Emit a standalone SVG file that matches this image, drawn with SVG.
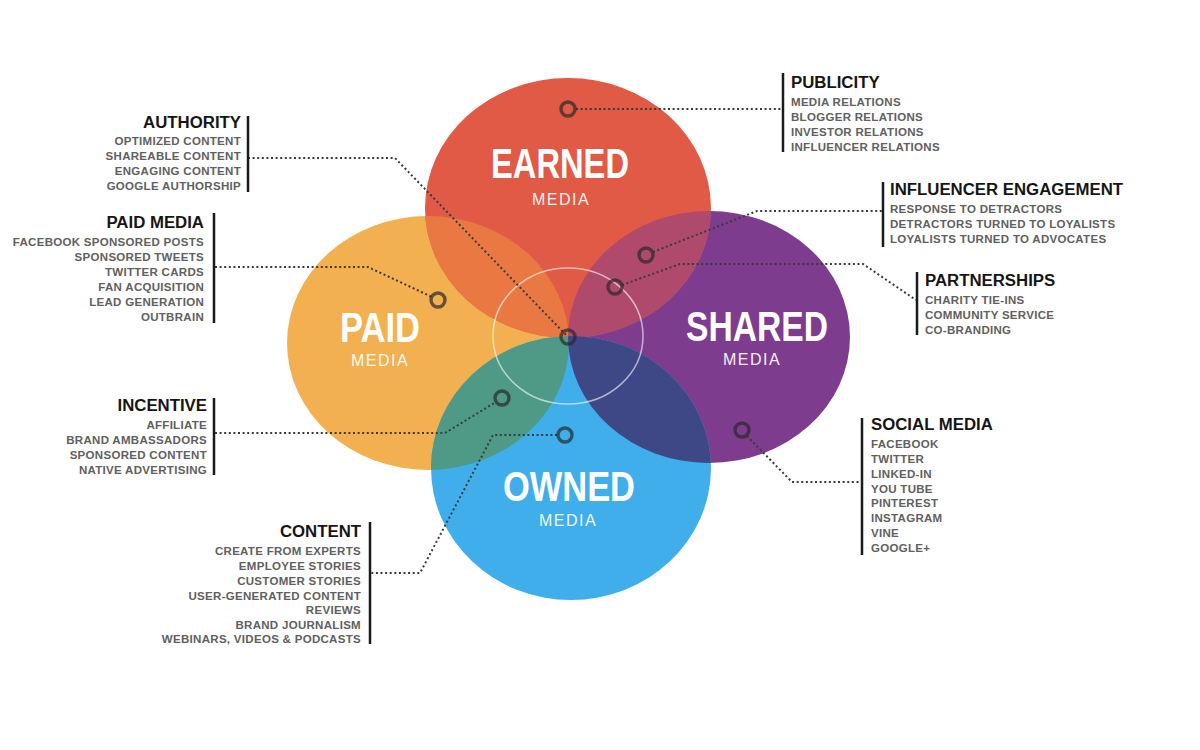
<svg xmlns="http://www.w3.org/2000/svg" width="1200" height="750" viewBox="0 0 1200 750">
<style>
.title{font-family:"Liberation Sans",Arial,sans-serif;font-weight:bold;fill:#fff;text-anchor:middle}
.sub{font-family:"Liberation Sans",Arial,sans-serif;fill:#fff;font-size:16px;letter-spacing:1.5px;text-anchor:middle;opacity:0.92}
.hd{font-family:"Liberation Sans",Arial,sans-serif;font-weight:bold;font-size:16.8px;fill:#151515}
.it{font-family:"Liberation Sans",Arial,sans-serif;font-weight:bold;font-size:11.5px;fill:#606060;letter-spacing:0.3px}
.r{text-anchor:end}
.br{stroke:#1a1a1a;stroke-width:2.5}
.dl{fill:none;stroke:#3a3a3a;stroke-width:2;stroke-dasharray:2 2.6}
.ring{fill:none;stroke:#2a2a2a;stroke-opacity:0.7;stroke-width:3.4}
</style>
<defs>
<clipPath id="cE"><ellipse cx="568" cy="208" rx="143" ry="130"/></clipPath>
<clipPath id="cO"><ellipse cx="571" cy="468" rx="140" ry="132"/></clipPath>
</defs>
<rect width="1200" height="750" fill="#fff"/>
<g id="circles">
<g id="paid"><ellipse cx="428" cy="343" rx="141" ry="127" fill="#F2B050"/></g>
<g id="shared"><ellipse cx="709" cy="337" rx="141" ry="126" fill="#7D3C8E"/></g>
<g id="earned"><ellipse cx="568" cy="208" rx="143" ry="130" fill="#E05A45"/></g>
<g id="owned"><ellipse cx="571" cy="468" rx="140" ry="132" fill="#3FAEEB"/></g>
<ellipse cx="428" cy="343" rx="141" ry="127" fill="#EA7843" clip-path="url(#cE)"/>
<ellipse cx="709" cy="337" rx="141" ry="126" fill="#B04A6C" clip-path="url(#cE)"/>
<ellipse cx="428" cy="343" rx="141" ry="127" fill="#4E9A86" clip-path="url(#cO)"/>
<ellipse cx="709" cy="337" rx="141" ry="126" fill="#3E4887" clip-path="url(#cO)"/>
<ellipse cx="568" cy="336" rx="75" ry="68" fill="none" stroke="#fff" stroke-opacity="0.6" stroke-width="1.5"/>
<text class="title" x="560" y="178" font-size="42" textLength="138" lengthAdjust="spacingAndGlyphs">EARNED</text>
<text class="sub" x="561" y="205">MEDIA</text>
<text class="title" x="380" y="342" font-size="42" textLength="80" lengthAdjust="spacingAndGlyphs">PAID</text>
<text class="sub" x="380" y="366">MEDIA</text>
<text class="title" x="757" y="341" font-size="42" textLength="142" lengthAdjust="spacingAndGlyphs">SHARED</text>
<text class="sub" x="752" y="365">MEDIA</text>
<text class="title" x="569" y="501" font-size="42" textLength="132" lengthAdjust="spacingAndGlyphs">OWNED</text>
<text class="sub" x="568" y="526">MEDIA</text>
</g>
<g id="connectors">
<polyline class="dl" points="576,109 783,109"/>
<polyline class="dl" points="248,158 395,158 566,335"/>
<polyline class="dl" points="215,267 368,267 432,297"/>
<polyline class="dl" points="653,252 757,211 883,211"/>
<polyline class="dl" points="622,285 680,264 863,264 916,300"/>
<polyline class="dl" points="215,433 445,433 496,402"/>
<polyline class="dl" points="557,435 493,435 420,573 370,573"/>
<polyline class="dl" points="747,436 792,482 862,482"/>
<circle class="ring" cx="568" cy="109" r="7"/>
<circle class="ring" cx="568" cy="337" r="7"/>
<circle class="ring" cx="438" cy="300" r="7"/>
<circle class="ring" cx="646" cy="255" r="7"/>
<circle class="ring" cx="615" cy="287" r="7"/>
<circle class="ring" cx="502" cy="398" r="7"/>
<circle class="ring" cx="565" cy="435" r="7"/>
<circle class="ring" cx="742" cy="430" r="7"/>
</g>
<g id="authority">
<line class="br" x1="248" y1="116" x2="248" y2="192"/>
<text class="hd r" x="241" y="128">AUTHORITY</text>
<text class="it r" x="241" y="145">OPTIMIZED CONTENT</text>
<text class="it r" x="241" y="160">SHAREABLE CONTENT</text>
<text class="it r" x="241" y="175">ENGAGING CONTENT</text>
<text class="it r" x="241" y="190">GOOGLE AUTHORSHIP</text>
</g>
<g id="paid-media">
<line class="br" x1="214" y1="213" x2="214" y2="323"/>
<text class="hd r" x="204" y="228">PAID MEDIA</text>
<text class="it r" x="204" y="246">FACEBOOK SPONSORED POSTS</text>
<text class="it r" x="204" y="261">SPONSORED TWEETS</text>
<text class="it r" x="204" y="276">TWITTER CARDS</text>
<text class="it r" x="204" y="291">FAN ACQUISITION</text>
<text class="it r" x="204" y="306">LEAD GENERATION</text>
<text class="it r" x="204" y="321">OUTBRAIN</text>
</g>
<g id="incentive">
<line class="br" x1="214" y1="398" x2="214" y2="475"/>
<text class="hd r" x="207" y="411">INCENTIVE</text>
<text class="it r" x="207" y="429">AFFILIATE</text>
<text class="it r" x="207" y="444">BRAND AMBASSADORS</text>
<text class="it r" x="207" y="459">SPONSORED CONTENT</text>
<text class="it r" x="207" y="474">NATIVE ADVERTISING</text>
</g>
<g id="content">
<line class="br" x1="370" y1="522" x2="370" y2="644"/>
<text class="hd r" x="361" y="537">CONTENT</text>
<text class="it r" x="361" y="555">CREATE FROM EXPERTS</text>
<text class="it r" x="361" y="570">EMPLOYEE STORIES</text>
<text class="it r" x="361" y="585">CUSTOMER STORIES</text>
<text class="it r" x="361" y="600">USER-GENERATED CONTENT</text>
<text class="it r" x="361" y="614">REVIEWS</text>
<text class="it r" x="361" y="629">BRAND JOURNALISM</text>
<text class="it r" x="361" y="643">WEBINARS, VIDEOS &amp; PODCASTS</text>
</g>
<g id="publicity">
<line class="br" x1="783" y1="73" x2="783" y2="152"/>
<text class="hd" x="791" y="88">PUBLICITY</text>
<text class="it" x="791" y="106">MEDIA RELATIONS</text>
<text class="it" x="791" y="121">BLOGGER RELATIONS</text>
<text class="it" x="791" y="136">INVESTOR RELATIONS</text>
<text class="it" x="791" y="151">INFLUENCER RELATIONS</text>
</g>
<g id="influencer">
<line class="br" x1="883" y1="182" x2="883" y2="247"/>
<text class="hd" x="890" y="195">INFLUENCER ENGAGEMENT</text>
<text class="it" x="890" y="213">RESPONSE TO DETRACTORS</text>
<text class="it" x="890" y="228">DETRACTORS TURNED TO LOYALISTS</text>
<text class="it" x="890" y="243">LOYALISTS TURNED TO ADVOCATES</text>
</g>
<g id="partnerships">
<line class="br" x1="917" y1="272" x2="917" y2="335"/>
<text class="hd" x="925" y="286">PARTNERSHIPS</text>
<text class="it" x="925" y="304">CHARITY TIE-INS</text>
<text class="it" x="925" y="319">COMMUNITY SERVICE</text>
<text class="it" x="925" y="334">CO-BRANDING</text>
</g>
<g id="social">
<line class="br" x1="862" y1="418" x2="862" y2="555"/>
<text class="hd" x="871" y="430">SOCIAL MEDIA</text>
<text class="it" x="871" y="448">FACEBOOK</text>
<text class="it" x="871" y="463">TWITTER</text>
<text class="it" x="871" y="478">LINKED-IN</text>
<text class="it" x="871" y="493">YOU TUBE</text>
<text class="it" x="871" y="507">PINTEREST</text>
<text class="it" x="871" y="522">INSTAGRAM</text>
<text class="it" x="871" y="537">VINE</text>
<text class="it" x="871" y="552">GOOGLE+</text>
</g>
</svg>
